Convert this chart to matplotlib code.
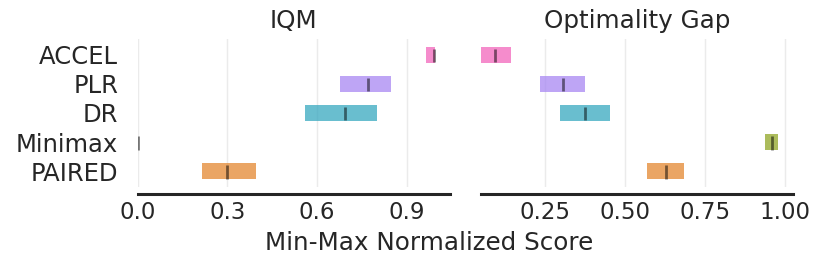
import matplotlib
matplotlib.use('Agg')
import matplotlib.pyplot as plt

# algorithms bottom -> top (row 0 at bottom)
algoritmos = ['PAIRED', 'Minimax', 'DR', 'PLR', 'ACCEL']
colores = {
    'PAIRED': '#e38730',
    'Minimax': '#90a626',
    'DR': '#37a8c0',
    'PLR': '#a887f2',
    'ACCEL': '#f266bc',
}

# IQM: (lower, upper, point)
iqm_bajo = [0.215, 0.000, 0.560, 0.678, 0.964]
iqm_alto = [0.396, 0.002, 0.801, 0.846, 0.995]
iqm_punto = [0.298, 0.001, 0.692, 0.772, 0.990]

# Optimality gap: (lower, upper, point)
gap_bajo = [0.569, 0.937, 0.296, 0.236, 0.051]
gap_alto = [0.685, 0.978, 0.453, 0.376, 0.145]
gap_punto = [0.628, 0.960, 0.374, 0.306, 0.094]

metricas = ['IQM', 'Optimality Gap']
intervalos = [(iqm_bajo, iqm_alto, iqm_punto), (gap_bajo, gap_alto, gap_punto)]
ticks_x = [[0.0, 0.3, 0.6, 0.9], [0.25, 0.50, 0.75, 1.00]]
etiquetas_x = [['0.0', '0.3', '0.6', '0.9'], ['0.25', '0.50', '0.75', '1.00']]

texto = '#262626'
fig = plt.figure(figsize=(8.23, 2.68), dpi=100)
posiciones = [[0.1673, 0.3034, 0.3795, 0.55], [0.5845, 0.3034, 0.379, 0.55]]
h = 0.55

for idx, nombre in enumerate(metricas):
    ax = fig.add_axes(posiciones[idx])
    # set_position resets the ticks, so do it first
    for s in ['top', 'right', 'left']:
        ax.spines[s].set_visible(False)
    ax.spines['bottom'].set_linewidth(2.2)
    ax.spines['bottom'].set_color(texto)
    ax.spines['bottom'].set_position(('outward', 5.5))

    bajo, alto, punto = intervalos[idx]
    for i, alg in enumerate(algoritmos):
        ax.barh(y=i, width=alto[i] - bajo[i], height=h, left=bajo[i],
                color=colores[alg], alpha=0.75, linewidth=0)
        ax.vlines(x=punto[i], ymin=i - 7.5 * h / 16, ymax=i + 6 * h / 16,
                  color='k', alpha=0.5, linewidth=2)
    ax.set_ylim(-0.53, 4.53)
    ax.set_xticks(ticks_x[idx])
    ax.set_xticklabels(etiquetas_x[idx])
    if idx == 0:
        ax.set_yticks(range(len(algoritmos)))
        ax.set_yticklabels(algoritmos)
    else:
        ax.set_yticks([])
    ax.set_title(nombre, fontsize=17.7, color=texto, pad=8)
    ax.tick_params(axis='x', length=0, pad=5, labelsize=16.5, labelcolor=texto)
    ax.tick_params(axis='y', length=0, pad=14, labelsize=17.5, labelcolor=texto)
    ax.grid(True, axis='x', color='#b0b0b0', alpha=0.25, linewidth=1)
    ax.set_axisbelow(True)

fig.text(0.522, 0.093, 'Min-Max Normalized Score', ha='center', va='center',
         fontsize=17.7, color=texto)

fig.savefig('out.png', dpi=100)
